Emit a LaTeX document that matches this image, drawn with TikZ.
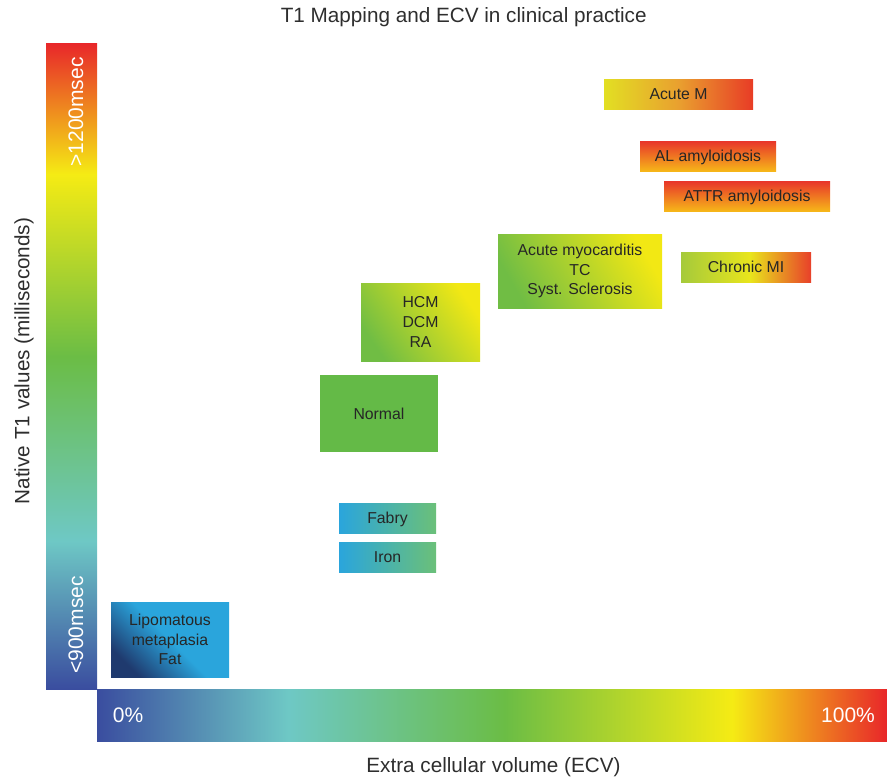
\documentclass[tikz,border=0pt]{standalone}
\usepackage{fontspec}
\setmainfont{Liberation Sans}
\definecolor{cred}{HTML}{E8262A}
\definecolor{cyellow}{HTML}{F5EB14}
\definecolor{cgreen}{HTML}{6BBD45}
\definecolor{cteal}{HTML}{6EC8C5}
\definecolor{cblue}{HTML}{3A4D9F}
\definecolor{txt}{HTML}{262626}
\definecolor{axt}{HTML}{2E2E2E}
\definecolor{bred}{HTML}{E8352A}
\definecolor{borange}{HTML}{F6B619}
\definecolor{byg}{HTML}{A5CA3B}
\definecolor{byel}{HTML}{E9E51C}
\definecolor{bred2}{HTML}{E8402A}
\definecolor{mgreen}{HTML}{70BD44}
\definecolor{myel}{HTML}{F2E814}
\definecolor{sky}{HTML}{2AA5DC}
\definecolor{sgreen}{HTML}{6BC079}
\definecolor{navy}{HTML}{1F3A6E}
\definecolor{ngreen}{HTML}{64BA47}
\definecolor{amy}{HTML}{E2DF23}
\definecolor{amo}{HTML}{E9A02F}
\definecolor{amr}{HTML}{E83C26}
\pgfdeclareverticalshading{vbarshade}{100bp}{color(0bp)=(cblue); color(25bp)=(cblue); color(36.45bp)=(cteal); color(50.75bp)=(cgreen); color(64.85bp)=(cyellow); color(75bp)=(cred); color(100bp)=(cred)}
\pgfdeclarehorizontalshading{hbarshade}{100bp}{color(0bp)=(cblue); color(25bp)=(cblue); color(37.1bp)=(cteal); color(50.8bp)=(cgreen); color(65.2bp)=(cyellow); color(75bp)=(cred); color(100bp)=(cred)}
\pgfdeclarehorizontalshading{chronicshade}{100bp}{color(0bp)=(byg); color(25bp)=(byg); color(51.5bp)=(byel); color(75bp)=(bred2); color(100bp)=(bred2)}
\tikzset{
  box/.style={inner sep=0pt, outer sep=0pt, text=txt, align=center,
    font=\fontsize{15.8}{19.7}\selectfont},
  single/.style={text height=11.3pt, text depth=0pt},
  barlabel/.style={text=white, font=\fontsize{21}{25}\selectfont, inner sep=0pt},
  axlabel/.style={text=axt, font=\fontsize{20.7}{25}\selectfont, inner sep=0pt},
  bar/.style={inner sep=0pt, outer sep=0pt}
}
\begin{document}
\begin{tikzpicture}[x=1pt,y=-1pt]
\useasboundingbox (0,0) rectangle (887,777);
% colour bars
\node[bar, shade, shading=vbarshade, minimum width=51pt, minimum height=646pt] (vbar) at (71.5,366) {};
\node[bar, shade, shading=hbarshade, minimum width=790pt, minimum height=52pt] (hbar) at (492,715) {};
\node[barlabel, rotate=90] (hi) at (76,112) {>1200msec};
\node[barlabel, rotate=90] (lo) at (76,625) {<900msec};
\node[barlabel] (p0) at (128,715) {0\%};
\node[barlabel] (p100) at (848,715) {100\%};
% titles
\node[axlabel, anchor=base] (title) at (463.7,22) {T1 Mapping and ECV in clinical practice};
\node[axlabel, anchor=base] (xlab) at (493.5,772) {Extra cellular volume (ECV)};
\node[axlabel, rotate=90, anchor=base] (ylab) at (29.3,361) {Native T1 values (milliseconds)};
% boxes
\node[box, single, minimum width=149pt, minimum height=30pt, left color=amy, right color=amr, middle color=amo] (acutem) at (678.5,94) {Acute M};
\node[box, single, minimum width=136pt, minimum height=30pt, top color=bred, bottom color=borange] (al) at (708,156) {AL amyloidosis};
\node[box, single, minimum width=166pt, minimum height=30pt, top color=bred, bottom color=borange] (attr) at (747,196) {ATTR amyloidosis};
\node[box, single, minimum width=130pt, minimum height=30pt, shade, shading=chronicshade] (chronic) at (746,267) {Chronic MI};
\node[box, minimum width=164pt, minimum height=74pt, bottom color=mgreen, top color=myel, shading angle=-60] (myo) at (580,271) {Acute myocarditis\\TC\\Syst. Sclerosis};
\node[box, minimum width=119pt, minimum height=78pt, bottom color=mgreen, top color=myel, shading angle=-55] (hcm) at (420.5,322) {HCM\\DCM\\RA};
\node[box, single, minimum width=118pt, minimum height=77pt, fill=ngreen] (normal) at (379,413.5) {Normal};
\node[box, single, minimum width=97pt, minimum height=30pt, left color=sky, right color=sgreen] (fabry) at (387.5,518) {Fabry};
\node[box, single, minimum width=97pt, minimum height=30pt, left color=sky, right color=sgreen] (iron) at (387.5,557) {Iron};
\node[box, minimum width=118pt, minimum height=75pt, bottom color=navy, top color=sky, middle color=sky, shading angle=-45] (lipo) at (170,639.5) {Lipomatous\\metaplasia\\Fat};
\end{tikzpicture}
\end{document}
